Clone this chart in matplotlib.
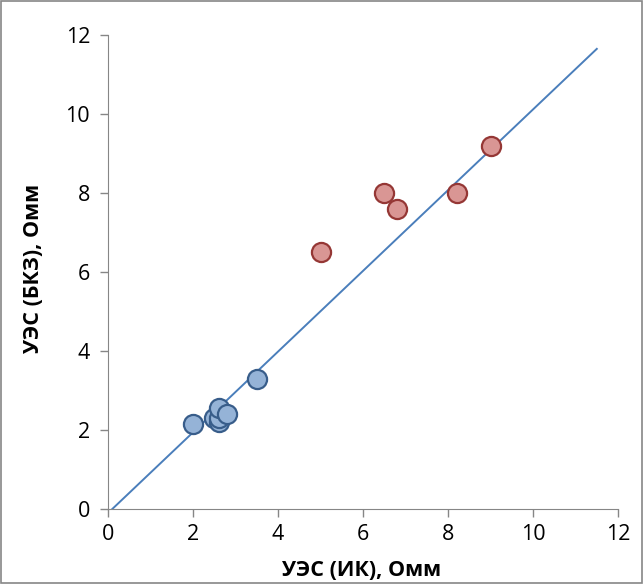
import matplotlib
matplotlib.use("Agg")
import matplotlib.pyplot as plt
from matplotlib.patches import Rectangle

# blue group (low values)
blue_x = [2.0, 2.5, 2.6, 2.6, 2.6, 2.8, 3.5]
blue_y = [2.15, 2.3, 2.2, 2.3, 2.55, 2.4, 3.3]

# red group (high values)
red_x = [5.0, 6.5, 6.8, 8.2, 9.0]
red_y = [6.5, 8.0, 7.6, 8.0, 9.2]

# reference line ends
line_x = [0.1, 11.5]
line_y = [0.0, 11.65]

ticks = [0, 2, 4, 6, 8, 10, 12]

plt.rcParams['font.family'] = ['Open Sans', 'DejaVu Sans']

fig = plt.figure(figsize=(6.43, 5.84), dpi=100)
ax = fig.add_axes([0.168, 0.1284, 0.7932, 0.8116])

ax.plot(line_x, line_y, color="#4A7EBB", lw=1.4, zorder=2)
ax.scatter(blue_x, blue_y, s=190, c="#95B3D7", edgecolors="#385D8A", linewidths=1.6, zorder=3)
ax.scatter(red_x, red_y, s=190, c="#D99694", edgecolors="#953735", linewidths=1.6, zorder=3)

ax.set_xlim(0, 12)
ax.set_ylim(0, 12)
ax.set_xticks(ticks)
ax.set_yticks(ticks)
ax.tick_params(axis="both", labelsize=15.5, length=6, width=1, color="#868686", direction="out")
ax.tick_params(axis="x", pad=5)
ax.tick_params(axis="y", pad=7)

for side in ["top", "right"]:
    ax.spines[side].set_visible(False)
for side in ["left", "bottom"]:
    ax.spines[side].set_color("#868686")

ax.set_xlabel("УЭС (ИК), Омм", fontsize=15.5, fontweight="bold", va="center")
ax.set_ylabel("УЭС (БКЗ), Омм", fontsize=15.5, fontweight="bold", va="center")
ax.xaxis.set_label_coords(0.497, -0.129)
ax.yaxis.set_label_coords(-0.147, 0.508)

fig.patches.append(Rectangle((0.002, 0.002), 0.996, 0.996, transform=fig.transFigure,
                             fill=False, edgecolor="#868686", lw=1.2))

fig.savefig("out.png", dpi=100)
